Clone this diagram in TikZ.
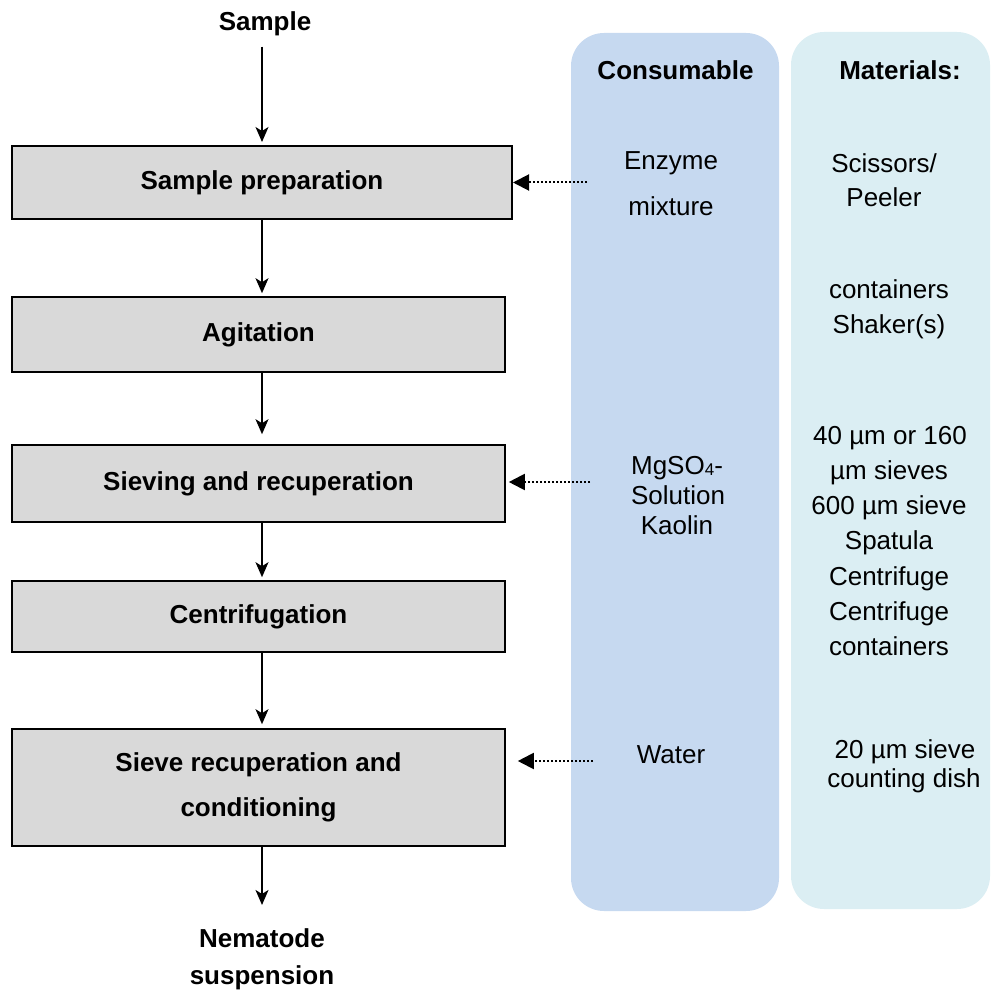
\documentclass[tikz,border=0pt]{standalone}
\usepackage{fontspec}
\setmainfont{Liberation Sans}
\usetikzlibrary{arrows.meta}
\definecolor{consC}{RGB}{198,217,240}
\definecolor{matC}{RGB}{219,238,243}
\definecolor{boxC}{RGB}{217,217,217}
\begin{document}
\begin{tikzpicture}[x=1pt,y=-1pt,
  every node/.style={font=\fontsize{26}{31}\selectfont, inner sep=0pt},
  stepbox/.style={draw=black, fill=boxC, line width=1.6pt, font=\fontsize{26}{45}\selectfont\bfseries, align=center, anchor=center},
  ttl/.style={font=\fontsize{26}{31}\selectfont\bfseries, anchor=base},
  lbl/.style={anchor=base},
  flow/.style={-{Stealth[length=15pt,width=13pt,inset=4pt]}, line width=1.4pt},
  feed/.style={-{Triangle[length=16pt,width=16pt]}, line width=2pt, dash pattern=on 2pt off 2pt},
  column/.style={rounded corners=33pt, inner sep=0pt, anchor=center}
]
\useasboundingbox (0,0) rectangle (990,992);

% columns
\node[column, fill=consC, minimum width=208pt, minimum height=878pt] (colC) at (675,472) {};
\node[column, fill=matC, minimum width=199pt, minimum height=877pt] (colM) at (890.5,470.5) {};

\node[ttl] (hC) at (675.5,80) {Consumable};
\node[ttl] (hM) at (900,80) {Materials:};

% flow boxes
\node[ttl] (smp) at (265,31) {Sample};
\node[stepbox, line width=2pt, minimum width=500pt, minimum height=73pt] (b1) at (262,182.5) {Sample preparation};
\node[stepbox, minimum width=493pt, minimum height=75pt] (b2) at (258.5,334.5) {Agitation};
\node[stepbox, minimum width=493pt, minimum height=77pt] (b3) at (258.5,483.5) {Sieving and recuperation};
\node[stepbox, minimum width=493pt, minimum height=71pt] (b4) at (258.5,616.5) {Centrifugation};
\node[stepbox, minimum width=493pt, minimum height=117pt] (b5) at (258.5,787.5) {Sieve recuperation and\\conditioning};
\node[ttl] (nem) at (262,947) {Nematode};
\node[ttl] (sus) at (262,984) {suspension};

\coordinate (ax) at (262,0);
\draw[flow, shorten <=10pt, shorten >=3pt] (ax |- smp.south) -- (ax |- b1.north);
\draw[flow, shorten >=3pt] (ax |- b1.south) -- (ax |- b2.north);
\draw[flow, shorten >=10pt] (ax |- b2.south) -- (ax |- b3.north);
\draw[flow, shorten >=3pt] (ax |- b3.south) -- (ax |- b4.north);
\draw[flow, shorten >=4pt] (ax |- b4.south) -- (ax |- b5.north);
\draw[flow, shorten >=23pt] (ax |- b5.south) -- (ax |- nem.north);

% consumables
\node[lbl] (c1a) at (671,169.5) {Enzyme};
\node[lbl] (c1b) at (671,215) {mixture};
\node[lbl] (c3a) at (677,474) {MgSO{\fontsize{17}{17}\selectfont\raisebox{-1pt}{4}}-};
\node[lbl] (c3b) at (678,504.5) {Solution};
\node[lbl] (c3c) at (677,534.5) {Kaolin};
\node[lbl] (c5a) at (671,763) {Water};

% materials
\node[lbl] (m1a) at (884,173) {Scissors/};
\node[lbl] (m1b) at (884,206.5) {Peeler};
\node[lbl] (m2a) at (889,298) {containers};
\node[lbl] (m2b) at (889,333) {Shaker(s)};
\node[lbl] (m3a) at (890,444) {40 µm or 160};
\node[lbl] (m3b) at (889,479) {µm sieves};
\node[lbl] (m3c) at (889,514.5) {600 µm sieve};
\node[lbl] (m3d) at (889,549) {Spatula};
\node[lbl] (m3e) at (889,585) {Centrifuge};
\node[lbl] (m3f) at (889,620) {Centrifuge};
\node[lbl] (m3g) at (889,655.5) {containers};
\node[lbl] (m5a) at (905,758) {20 µm sieve};
\node[lbl] (m5b) at (904,787.5) {counting dish};

% feed arrows
\coordinate (d1) at (587,182.5);
\draw[feed] (d1) -- (b1.east);
\coordinate (d3) at (590,482);
\draw[feed, shorten >=3pt] (d3) -- (d3 -| b3.east);
\coordinate (d5) at (593,761);
\draw[feed, shorten >=12pt] (d5) -- (d5 -| b5.east);
\end{tikzpicture}
\end{document}
